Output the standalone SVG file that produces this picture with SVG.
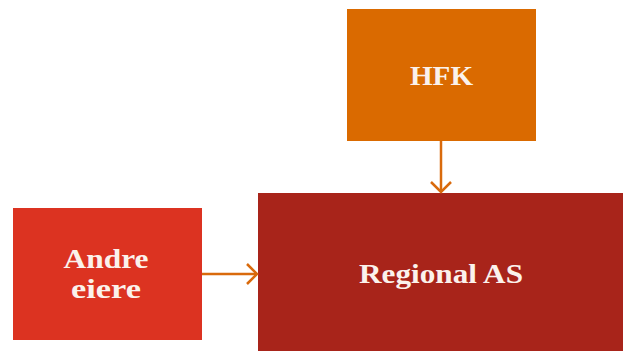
<svg xmlns="http://www.w3.org/2000/svg" width="623" height="351" viewBox="0 0 623 351">
<style>
.lbl{font-family:"Liberation Serif","Times New Roman",serif;font-weight:bold;font-size:27px;fill:#FBF2EC;text-anchor:middle}
.conn{stroke:#D96A0C;stroke-width:2.5;fill:none}
</style>
<defs>
<marker id="ah" markerWidth="14" markerHeight="22" refX="12" refY="11" orient="auto" markerUnits="userSpaceOnUse">
<path d="M2,1 L12,11 L2,21" fill="none" stroke="#D96A0C" stroke-width="2.5"/>
</marker>
</defs>
<g id="hfk">
<rect x="347" y="9" width="189" height="132" fill="#DA6A00"/>
<text class="lbl" x="441.5" y="85" textLength="63" lengthAdjust="spacingAndGlyphs">HFK</text>
</g>
<g id="regional">
<rect x="258" y="193" width="365" height="158" fill="#A8241A"/>
<text class="lbl" x="441" y="283" textLength="164" lengthAdjust="spacingAndGlyphs">Regional AS</text>
</g>
<g id="andre">
<rect x="13" y="208" width="189" height="132" fill="#DC3321"/>
<text class="lbl" x="106" y="268" textLength="85" lengthAdjust="spacingAndGlyphs">Andre</text>
<text class="lbl" x="106" y="298" textLength="70" lengthAdjust="spacingAndGlyphs">eiere</text>
</g>
<g id="connectors">
<line class="conn" x1="441" y1="141" x2="441" y2="192" marker-end="url(#ah)"/>
<line class="conn" x1="202" y1="274" x2="257" y2="274" marker-end="url(#ah)"/>
</g>
</svg>
